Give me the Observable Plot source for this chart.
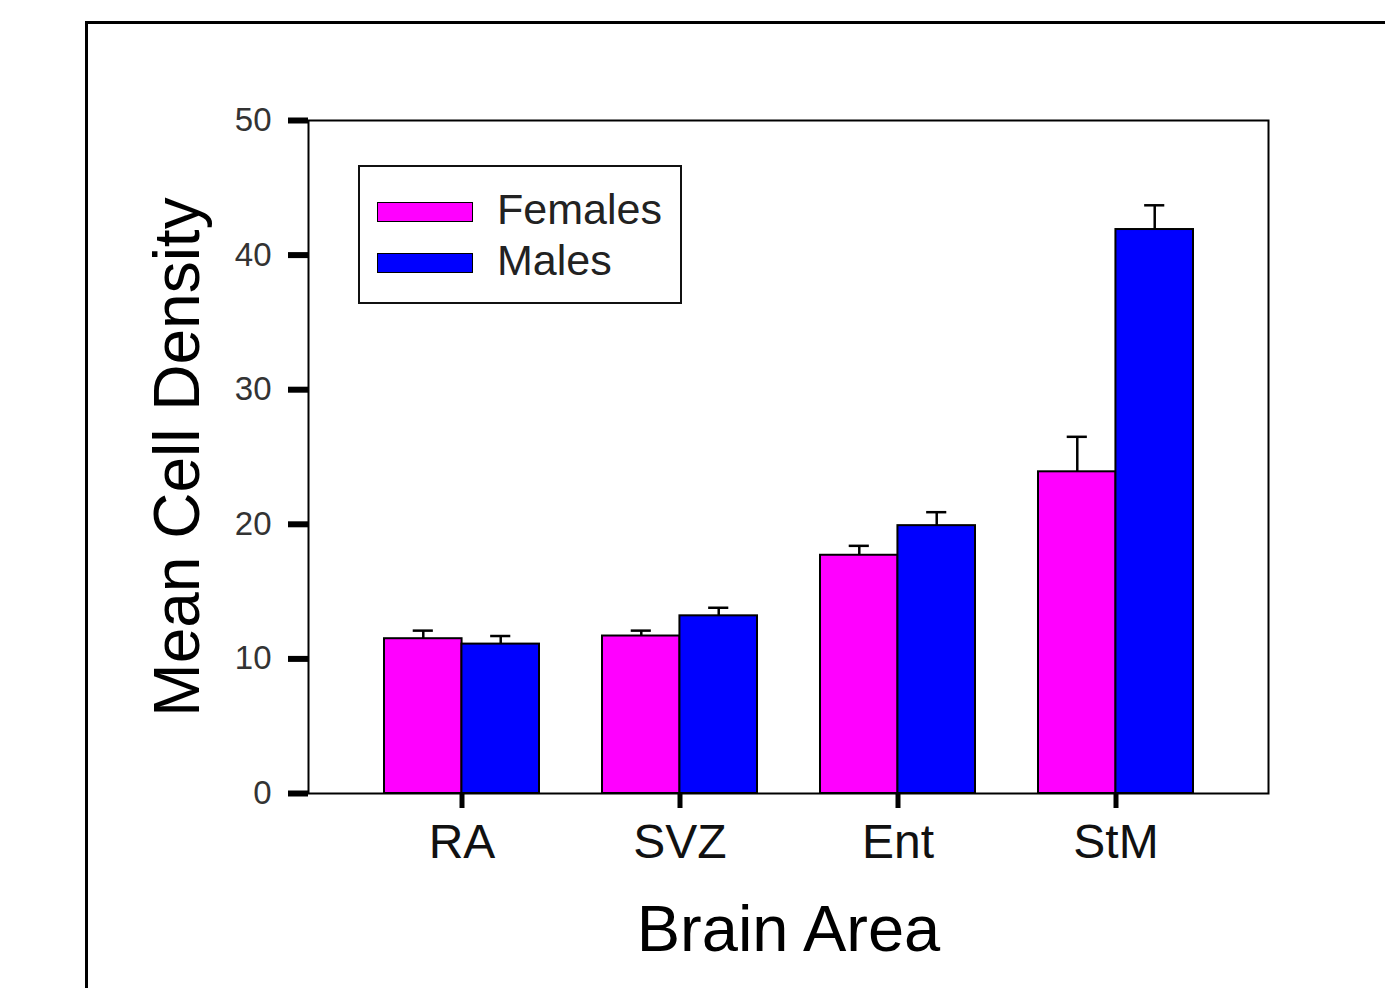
<!DOCTYPE html>
<html>
<head>
<meta charset="utf-8">
<script src="https://cdn.jsdelivr.net/npm/d3@7"></script>
<script src="https://cdn.jsdelivr.net/npm/@observablehq/plot@0.6"></script>
<style>
  html, body { margin: 0; padding: 0; background: #fff; overflow: hidden; }
  #wrap { position: relative; width: 1385px; height: 988px; font-family: "Liberation Sans", Arial, sans-serif; }
  #outer { position: absolute; left: 85px; top: 21px; width: 1400px; height: 1000px;
           border-left: 3px solid #000; border-top: 3px solid #000; pointer-events: none; }
  #legend { position: absolute; left: 358px; top: 165px; width: 320px; height: 135px;
            border: 2px solid #111; background: #fff; }
  .lg-sw { position: absolute; left: 17px; width: 94px; height: 18px; border: 1.5px solid #000; }
  .lg-tx { position: absolute; left: 137px; font-size: 43px; color: #222; white-space: nowrap; line-height: 1; }
</style>
</head>
<body>
<div id="wrap">
  <div id="outer"></div>
  <div id="chart"></div>
  <div id="legend"></div>
</div>
<script>
const areas = ["RA", "SVZ", "Ent", "StM"];
const females = [11.5, 11.7, 17.7, 23.9];
const femalesErr = [0.6, 0.4, 0.7, 2.6];
const males = [11.1, 13.2, 19.9, 41.9];
const malesErr = [0.6, 0.6, 1.0, 1.8];
const series = ["Females", "Males"];
const colors = ["#ff00ff", "#0000ff"];
const yTicks = [0, 10, 20, 30, 40, 50];
const xTitle = "Brain Area";
const yTitle = "Mean Cell Density";

const rows = areas.flatMap((a, i) => [
  {area: a, sex: series[0], value: females[i], err: femalesErr[i]},
  {area: a, sex: series[1], value: males[i], err: malesErr[i]}
]);
const fRows = rows.filter(d => d.sex === series[0]);
const mRows = rows.filter(d => d.sex === series[1]);

const W = 1385, H = 988;
const mL = 308, mR = 117, mT = 120, mB = 195;
const pIn = 0.291, pOut = 0.343;
const innerW = W - mL - mR;
const bw = innerW * (1 - pIn) / (areas.length - pIn + 2 * pOut);
const half = bw / 2, q = bw / 4, capW = 20;
const hi = d => d.value + d.err;

const chart = Plot.plot({
  width: W, height: H,
  marginLeft: mL, marginRight: mR, marginTop: mT, marginBottom: mB,
  style: {fontFamily: "'Liberation Sans', Arial, sans-serif", background: "transparent", overflow: "visible"},
  x: {domain: areas, paddingInner: pIn, paddingOuter: pOut, align: 0.5},
  y: {domain: [0, 50]},
  color: {domain: series, range: colors},
  marks: [
    Plot.ruleX(fRows, {x: "area", y1: "value", y2: hi, dx: -q, stroke: "#000", strokeWidth: 2.5}),
    Plot.tickY(fRows, {x: "area", y: hi, dx: -q, insetLeft: (bw - capW) / 2, insetRight: (bw - capW) / 2, stroke: "#000", strokeWidth: 2.5}),
    Plot.ruleX(mRows, {x: "area", y1: "value", y2: hi, dx: q, stroke: "#000", strokeWidth: 2.5}),
    Plot.tickY(mRows, {x: "area", y: hi, dx: q, insetLeft: (bw - capW) / 2, insetRight: (bw - capW) / 2, stroke: "#000", strokeWidth: 2.5}),
    Plot.barY(fRows, {x: "area", y: "value", fill: "sex", stroke: "#000", strokeWidth: 2, insetRight: half}),
    Plot.barY(mRows, {x: "area", y: "value", fill: "sex", stroke: "#000", strokeWidth: 2, insetLeft: half}),
    Plot.frame({stroke: "#000", strokeWidth: 2}),
    Plot.axisY({ticks: yTicks, tickSize: 20, tickPadding: 17, fontSize: 33, fill: "#333", stroke: "#000", strokeWidth: 6, label: null}),
    Plot.axisX({tickSize: 15, tickPadding: 15, fontSize: 48, fill: "#111", stroke: "#000", strokeWidth: 5, label: null}),
    Plot.text([yTitle], {frameAnchor: "left", dx: -130, rotate: -90, textAnchor: "middle", lineAnchor: "middle", fontSize: 64, fill: "#000"}),
    Plot.text([xTitle], {frameAnchor: "bottom", dy: 137, textAnchor: "middle", lineAnchor: "middle", fontSize: 65, fill: "#000"})
  ]
});
document.getElementById("chart").appendChild(chart);

const legend = document.getElementById("legend");
const rowTops = [35, 86];
series.forEach((s, i) => {
  const sw = document.createElement("div");
  sw.className = "lg-sw";
  sw.style.top = rowTops[i] + "px";
  sw.style.background = colors[i];
  legend.appendChild(sw);
  const tx = document.createElement("div");
  tx.className = "lg-tx";
  tx.style.top = (rowTops[i] - 14) + "px";
  tx.textContent = s;
  legend.appendChild(tx);
});
</script>
</body>
</html>
